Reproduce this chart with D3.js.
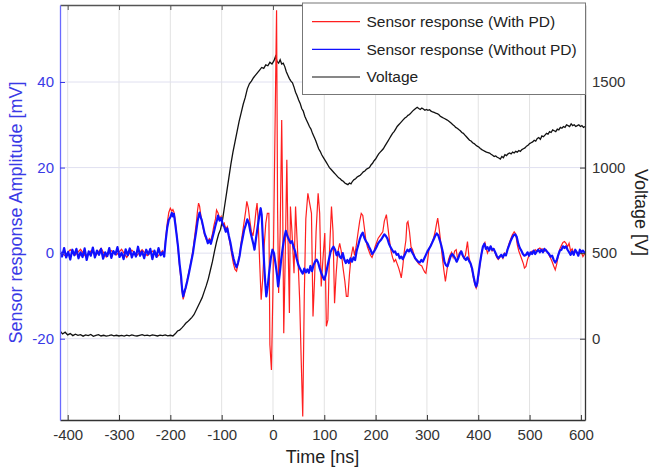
<!DOCTYPE html>
<html><head><meta charset="utf-8">
<script src="https://cdn.jsdelivr.net/npm/d3@7"></script>
<style>
html,body{margin:0;padding:0;background:#fff;}
svg{display:block;font-family:"Liberation Sans",Arial,sans-serif;}
</style></head><body>
<svg id="chart" width="650" height="472"></svg>
<script>
// ---- data (time [ns], value) ----
const xTicks = [-400,-300,-200,-100,0,100,200,300,400,500,600];
const leftTicks = [-20,0,20,40];
const rightTicks = [0,500,1000,1500];
const seriesNames = ["Sensor response (With PD)","Sensor response (Without PD)","Voltage"];

const voltage = [[-415,45],[-410,28],[-405,38],[-400,22],[-395,30],[-390,18],[-385,26],[-380,20],[-375,24],[-370,15],[-365,22],[-360,18],[-355,25],[-350,14],[-345,20],[-340,24],[-335,16],[-330,20],[-325,15],[-320,18],[-315,22],[-310,17],[-305,20],[-300,16],[-295,19],[-290,15],[-285,21],[-280,17],[-275,22],[-270,18],[-265,16],[-260,20],[-255,24],[-250,18],[-245,21],[-240,17],[-235,22],[-230,19],[-225,16],[-220,21],[-215,18],[-210,22],[-205,17],[-200,20],[-195,16],[-190,30],[-186,45],[-182,50],[-178,62],[-174,75],[-170,90],[-166,100],[-162,112],[-158,125],[-154,140],[-150,165],[-146,190],[-142,215],[-138,240],[-134,275],[-130,310],[-126,350],[-122,400],[-118,450],[-114,510],[-110,565],[-106,610],[-102,640],[-98,700],[-94,780],[-90,860],[-86,940],[-82,1020],[-78,1090],[-74,1150],[-70,1210],[-66,1270],[-62,1320],[-58,1370],[-54,1410],[-50,1460],[-46,1490],[-42,1505],[-38,1525],[-34,1540],[-30,1555],[-26,1570],[-22,1585],[-18,1580],[-14,1600],[-10,1595],[-6,1615],[-2,1605],[2,1625],[5,1650],[8,1620],[11,1610],[14,1630],[17,1605],[20,1610],[23,1590],[26,1560],[29,1540],[32,1520],[35,1505],[38,1495],[41,1470],[44,1440],[47,1420],[50,1395],[53,1375],[56,1345],[59,1330],[62,1300],[65,1280],[68,1260],[71,1240],[74,1225],[77,1200],[80,1180],[83,1160],[86,1135],[89,1110],[92,1095],[95,1075],[98,1060],[101,1045],[104,1030],[107,1015],[110,1000],[113,990],[116,980],[119,970],[122,960],[125,950],[128,940],[131,935],[134,925],[137,920],[140,910],[143,905],[146,900],[149,910],[152,905],[155,920],[158,930],[161,935],[164,945],[167,950],[170,955],[173,965],[176,975],[179,980],[182,990],[185,995],[188,1000],[191,1015],[194,1025],[197,1040],[200,1050],[203,1065],[206,1080],[209,1090],[212,1100],[215,1110],[218,1125],[221,1140],[224,1155],[227,1170],[230,1185],[233,1200],[236,1210],[239,1225],[242,1240],[245,1250],[248,1260],[251,1270],[254,1280],[257,1290],[260,1295],[263,1305],[266,1310],[269,1320],[272,1330],[275,1338],[278,1345],[281,1352],[284,1345],[287,1340],[290,1348],[293,1342],[296,1335],[299,1340],[302,1335],[305,1338],[308,1330],[311,1325],[314,1322],[317,1318],[320,1315],[323,1310],[326,1300],[329,1295],[332,1290],[335,1285],[338,1280],[341,1275],[344,1268],[347,1260],[350,1252],[353,1245],[356,1235],[359,1230],[362,1222],[365,1215],[368,1205],[371,1200],[374,1190],[377,1180],[380,1170],[383,1160],[386,1155],[389,1145],[392,1140],[395,1132],[398,1125],[401,1120],[404,1112],[407,1105],[410,1100],[413,1095],[416,1090],[419,1088],[422,1085],[425,1078],[428,1072],[431,1065],[434,1068],[437,1060],[440,1056],[443,1050],[446,1065],[449,1058],[452,1075],[455,1070],[458,1080],[461,1085],[464,1080],[467,1090],[470,1085],[473,1095],[476,1090],[479,1100],[482,1095],[485,1105],[488,1110],[491,1115],[494,1125],[497,1130],[500,1140],[503,1145],[506,1150],[509,1160],[512,1155],[515,1170],[518,1175],[521,1165],[524,1185],[527,1180],[530,1190],[533,1200],[536,1195],[539,1210],[542,1205],[545,1220],[548,1215],[551,1210],[554,1225],[557,1220],[560,1235],[563,1230],[566,1240],[569,1235],[572,1250],[575,1245],[578,1240],[581,1255],[584,1245],[587,1250],[590,1240],[593,1245],[596,1250],[599,1240],[602,1245],[605,1235],[608,1240]];

const withPD = [[-415,0.3],[-405,-0.6],[-395,0.8],[-385,-0.4],[-375,0.9],[-365,-0.8],[-355,0.5],[-345,-0.5],[-335,1.1],[-325,-0.9],[-315,0.6],[-305,-0.4],[-295,0.9],[-285,-1.0],[-275,0.7],[-265,-0.5],[-255,0.8],[-245,-0.6],[-235,0.5],[-225,-0.8],[-215,0.6],[-212,-0.5],[-209,3.5],[-206,7.0],[-203,9.5],[-200,10.5],[-197,9.8],[-195,10.2],[-193,9.6],[-191,8.0],[-188,4.8],[-185,1.0],[-182,-3.0],[-179,-6.5],[-177,-9.0],[-175,-10.8],[-173,-9.8],[-170,-8.2],[-167,-6.2],[-164,-4.5],[-161,-2.8],[-158,-0.8],[-155,1.5],[-152,4.5],[-149,7.5],[-147,10.0],[-145,11.7],[-143,11.0],[-141,9.2],[-139,7.6],[-136,5.8],[-133,4.2],[-130,3.2],[-127,2.6],[-124,3.4],[-121,3.0],[-118,4.5],[-115,6.5],[-112,8.0],[-110,10.1],[-107,9.4],[-104,8.0],[-101,8.6],[-98,6.5],[-95,7.0],[-92,5.6],[-89,6.2],[-86,3.8],[-83,1.8],[-80,-0.5],[-77,-2.5],[-74,-3.8],[-71,-4.2],[-68,-2.5],[-65,-0.5],[-62,2.5],[-59,5.0],[-56,7.5],[-53,10.0],[-51,12.1],[-48,10.5],[-45,7.5],[-42,5.0],[-39,4.0],[-36,6.5],[-33,10.0],[-31,11.7],[-29,8.0],[-26,-2.0],[-23,-10.9],[-20,-6.0],[-17,2.0],[-14,7.0],[-11,9.3],[-8,9.3],[-6,-21.4],[-3,-27.3],[0,-8.0],[3,20.0],[7,56.8],[9,10.0],[11,-9.3],[14,5.0],[17,31.1],[19,10.0],[21,-18.7],[24,0],[27,21.8],[29,5.0],[32,-14.0],[34,10.9],[37,5.0],[41,-4.7],[44,10.9],[47,3.0],[50,-5.0],[52,-10.9],[55,-25.0],[58,-38.2],[61,-10.0],[64,8.0],[68,14.0],[71,12.0],[75,9.3],[78,-14.8],[81,-6.2],[84,5.0],[88,14.0],[91,9.3],[94,-7.8],[97,-2.0],[101,4.7],[104,-17.1],[107,-15.6],[110,0],[114,10.9],[117,5.0],[120,-11.7],[123,-5.0],[126,0],[130,2.3],[133,0.5],[136,-3.0],[140,-6.5],[143,-10.1],[146,-10.1],[149,-5.0],[152,-1.0],[156,1.5],[159,-0.5],[162,1.5],[166,5.0],[169,7.5],[172,9.3],[175,8.8],[178,6.0],[181,3.0],[184,1.5],[187,0.5],[190,-0.5],[193,-1.0],[196,0],[199,1.5],[202,2.5],[205,3.5],[208,4.0],[211,4.5],[214,5.0],[217,7.5],[221,9.0],[224,6.0],[227,3.0],[230,0.5],[233,-1.0],[236,-2.0],[239,-1.5],[242,-2.5],[245,-3.5],[248,-4.8],[250,-5.8],[253,-3.0],[256,0.5],[259,3.0],[261,7.0],[263,7.4],[266,5.0],[269,1.5],[272,0.8],[275,-0.5],[278,-1.5],[281,-2.0],[284,-2.5],[287,-2.8],[290,-3.0],[293,-3.8],[296,-4.5],[298,-4.7],[301,-2.0],[304,1.0],[307,1.8],[310,2.5],[313,3.5],[316,5.0],[319,7.0],[321,8.2],[324,5.5],[327,2.5],[330,-1.0],[333,-4.0],[336,-6.6],[339,-4.0],[342,-1.5],[345,-0.5],[348,0.2],[351,-1.0],[354,0.5],[357,0.8],[360,-1.5],[363,0],[366,0.5],[369,-0.5],[372,-1.2],[375,-0.5],[379,2.7],[382,-1.0],[385,-2.5],[388,-4.0],[391,-6.0],[394,-7.6],[396,-8.2],[398,-7.5],[401,-5.0],[404,-2.0],[407,0.5],[410,1.8],[413,2.5],[416,0.8],[418,0],[421,1.0],[424,1.5],[427,0.5],[430,1.0],[433,0],[436,-1.0],[439,-1.5],[442,-1.0],[445,-0.5],[448,-1.2],[451,0],[454,-0.5],[457,1.0],[460,2.2],[463,3.2],[466,4.2],[470,5.0],[473,4.5],[476,2.0],[479,0.5],[482,-0.5],[485,-1.5],[488,-2.5],[490,-3.5],[493,-3.1],[496,-1.5],[499,-0.5],[502,0],[505,0.5],[508,0.2],[511,0.8],[514,0.5],[517,1.0],[520,1.2],[523,0.8],[526,1.0],[529,0.5],[532,0.8],[535,0.2],[538,-0.5],[541,-1.2],[544,-2.0],[547,-3.0],[550,-3.9],[553,-2.5],[556,-0.5],[559,1.0],[562,1.8],[565,2.5],[568,2.7],[571,2.3],[574,1.5],[577,2.3],[580,0.5],[583,1.0],[586,0],[590,0.5],[595,-0.3],[600,0.5],[604,-0.8],[608,0]];

const withoutPD = [[-415,0.5],[-411,-0.8],[-407,1.2],[-403,-1.0],[-399,0.3],[-395,-1.5],[-391,0.8],[-387,-0.5],[-383,1.0],[-379,-1.2],[-375,0.2],[-371,-0.9],[-367,1.1],[-363,-1.6],[-359,0.4],[-355,-0.6],[-351,1.3],[-347,-1.0],[-343,0.6],[-339,-0.4],[-335,1.0],[-331,-1.3],[-327,0.2],[-323,-0.7],[-319,1.2],[-315,-1.1],[-311,0.5],[-307,-0.3],[-303,1.4],[-299,-0.9],[-295,0.1],[-291,-1.4],[-287,0.9],[-283,-0.5],[-279,1.1],[-275,-1.0],[-271,0.3],[-267,-0.8],[-263,1.5],[-259,-0.6],[-255,0.4],[-251,-1.2],[-247,0.8],[-243,-0.3],[-239,1.0],[-235,-1.4],[-231,0.6],[-227,-0.9],[-223,1.2],[-219,-0.5],[-215,0.2],[-212,-0.8],[-209,3.0],[-206,6.0],[-203,7.8],[-200,8.4],[-197,9.4],[-195,8.6],[-193,9.2],[-191,7.4],[-188,4.5],[-185,1.5],[-182,-2.5],[-179,-5.5],[-177,-8.5],[-175,-10.1],[-173,-9.2],[-170,-8.0],[-167,-6.5],[-164,-4.8],[-161,-3.0],[-158,-1.2],[-156,0],[-153,2.5],[-150,4.8],[-147,7.4],[-145,8.6],[-143,9.5],[-141,8.4],[-139,7.8],[-136,6.2],[-133,4.5],[-130,3.6],[-127,2.3],[-124,3.0],[-121,2.2],[-118,3.6],[-115,5.0],[-112,6.5],[-109,7.8],[-107,8.8],[-104,7.6],[-101,8.2],[-98,6.8],[-95,6.2],[-92,5.0],[-89,5.8],[-86,4.0],[-83,2.5],[-80,0.5],[-77,-1.2],[-74,-2.5],[-71,-3.3],[-68,-2.2],[-65,-0.6],[-62,1.8],[-59,3.6],[-56,5.5],[-53,6.6],[-50,7.9],[-47,7.0],[-44,5.0],[-41,3.5],[-38,2.0],[-36,0.8],[-33,3.5],[-30,6.0],[-27,8.5],[-24,10.5],[-22,9.0],[-20,4.0],[-17,-3.0],[-15,-7.0],[-13,-10.1],[-10,-7.5],[-7,-4.0],[-4,-1.0],[-1,0.8],[2,0.0],[5,-2.5],[8,-5.2],[10,-7.8],[13,-5.0],[16,-1.5],[19,1.2],[22,3.6],[25,5.2],[28,4.0],[31,3.2],[34,2.4],[37,2.8],[40,1.5],[43,0.5],[46,-1.2],[49,-2.6],[52,-3.5],[55,-4.2],[58,-4.8],[61,-3.6],[64,-4.5],[67,-3.8],[70,-4.6],[73,-3.0],[76,-4.2],[79,-2.8],[82,-2.0],[85,-1.5],[88,-2.2],[91,-3.5],[94,-4.6],[97,-5.5],[100,-6.2],[103,-5.0],[106,-3.2],[109,-1.5],[112,0.2],[115,1.0],[118,1.5],[121,0.8],[124,-0.5],[127,0.3],[130,-0.8],[133,-1.2],[136,0],[139,-1.5],[142,-2.3],[145,-1.6],[148,-2.3],[151,-1.2],[154,-2.0],[157,-1.0],[160,-1.6],[163,0.5],[166,1.8],[169,3.2],[172,4.2],[175,4.8],[178,3.6],[181,2.8],[184,2.3],[187,1.5],[190,0.8],[193,-0.2],[196,0.2],[199,0.8],[202,1.5],[205,2.3],[208,2.8],[211,3.2],[214,3.8],[217,4.4],[220,4.0],[223,3.4],[226,2.2],[229,1.4],[232,0.8],[235,0.2],[238,0.4],[241,-0.4],[244,-0.2],[247,-1.2],[250,-0.8],[253,-1.4],[256,-0.6],[259,0.2],[262,0.8],[265,0.4],[268,1.0],[271,0.2],[274,-0.4],[277,-1.2],[280,-1.6],[283,-2.0],[286,-2.2],[289,-1.6],[292,-2.0],[295,-1.2],[298,-0.4],[301,0.4],[304,1.0],[307,1.6],[310,2.4],[313,3.2],[316,4.0],[319,4.6],[322,4.2],[325,3.0],[328,1.8],[331,0.2],[334,-2.0],[337,-2.8],[340,-3.1],[343,-2.0],[346,-0.8],[349,-0.2],[352,-0.6],[355,-1.2],[358,-2.0],[361,-1.2],[364,-0.2],[367,0.4],[370,-0.6],[373,-1.2],[376,-1.6],[379,-1.0],[382,-1.8],[385,-2.4],[388,-3.6],[391,-5.6],[394,-7.2],[396,-7.8],[398,-7.0],[400,-5.2],[403,-2.6],[406,-0.4],[409,1.5],[412,2.2],[415,1.0],[418,1.4],[421,0.6],[424,1.6],[427,0.8],[430,1.0],[433,0.2],[436,-0.6],[439,-1.2],[442,-0.8],[445,-0.4],[448,-1.0],[451,-0.2],[454,-0.5],[457,0.8],[460,1.8],[463,2.8],[466,3.6],[469,4.2],[472,4.4],[475,3.8],[478,2.2],[481,1.2],[484,0.6],[487,-0.2],[490,-0.6],[493,-0.4],[496,0.2],[499,-0.6],[502,0.2],[505,-0.2],[508,0.6],[511,-0.2],[514,0.4],[517,0.8],[520,0.2],[523,0.8],[526,0.2],[529,1.0],[532,0.6],[535,0.2],[538,-0.2],[541,-0.8],[544,-0.6],[547,-1.6],[550,-2.2],[553,-1.6],[556,-0.4],[559,0.6],[562,0.8],[565,1.6],[568,1.2],[571,1.6],[574,0.8],[577,0.2],[580,-0.4],[583,0.4],[586,-0.4],[589,0.8],[592,0.2],[595,-0.6],[598,0.8],[601,0.2],[604,0.6],[608,0]];

// ---- layout ----
const W = 650, H = 472;
const L = 60, R = 585, T = 5, B = 420;
const svg = d3.select("#chart");

const x = d3.scaleLinear().domain([-415, 608]).range([L, R]);
const yL = d3.scaleLinear().domain([-39, 58]).range([B, T]);
const yR = d3.scaleLinear().domain([-475, 1950]).range([B, T]);

const axisCol = "#333333";
const leftCol = "#3a3ae6";
const fmt = d => String(d);

// grid
const grid = svg.append("g");
grid.selectAll("line.v").data(xTicks).enter().append("line")
  .attr("x1", d => x(d)).attr("x2", d => x(d)).attr("y1", T).attr("y2", B)
  .attr("stroke", "#e2e2e2").attr("stroke-width", 1);
grid.selectAll("line.h").data(leftTicks).enter().append("line")
  .attr("x1", L).attr("x2", R).attr("y1", d => yL(d)).attr("y2", d => yL(d))
  .attr("stroke", "#e0e0f0").attr("stroke-width", 1);

// clip
svg.append("defs").append("clipPath").attr("id", "clip")
  .append("rect").attr("x", L).attr("y", T).attr("width", R - L).attr("height", B - T);

const plot = svg.append("g").attr("clip-path", "url(#clip)");
const lineV = d3.line().x(d => x(d[0])).y(d => yR(d[1]));
const lineS = d3.line().x(d => x(d[0])).y(d => yL(d[1]));

plot.append("path").datum(voltage).attr("d", lineV)
  .attr("fill", "none").attr("stroke", "#111").attr("stroke-width", 1.3);
plot.append("path").datum(withPD).attr("d", lineS)
  .attr("fill", "none").attr("stroke", "#ff1f1f").attr("stroke-width", 1.2);
plot.append("path").datum(withoutPD).attr("d", lineS)
  .attr("fill", "none").attr("stroke", "#1010ff").attr("stroke-width", 2.2)
  .attr("stroke-linejoin", "round");

// axes
const fontSize = 15;
function styleAxis(g, col) {
  g.selectAll("path").attr("stroke", col).attr("stroke-width", 1.3);
  g.selectAll("line").attr("stroke", col);
  g.selectAll("text").attr("fill", col).style("font-size", fontSize + "px")
    .style("font-family", "'Liberation Sans', Arial, sans-serif");
}
const gB = svg.append("g").attr("transform", `translate(0,${B})`)
  .call(d3.axisBottom(x).tickValues(xTicks).tickFormat(fmt).tickSizeInner(-5).tickSizeOuter(0).tickPadding(9));
styleAxis(gB, axisCol);
const gT = svg.append("g").attr("transform", `translate(0,${T})`)
  .call(d3.axisTop(x).tickValues(xTicks).tickSizeInner(-5).tickSizeOuter(0).tickFormat(""));
styleAxis(gT, "#555");
const gR = svg.append("g").attr("transform", `translate(${R},0)`)
  .call(d3.axisRight(yR).tickValues(rightTicks).tickFormat(fmt).tickSizeInner(-5).tickSizeOuter(0).tickPadding(7));
styleAxis(gR, axisCol);
const gL = svg.append("g").attr("transform", `translate(${L},0)`)
  .call(d3.axisLeft(yL).tickValues(leftTicks).tickFormat(fmt).tickSizeInner(-5).tickSizeOuter(0).tickPadding(6));
styleAxis(gL, leftCol);
gL.select("path").attr("stroke", "#6a6aff");

// axis titles
svg.append("text").attr("x", (L + R) / 2).attr("y", 463).attr("text-anchor", "middle")
  .style("font-size", "18px").attr("fill", "#222").text("Time [ns]");
svg.append("text").attr("transform", `translate(22,${(T + B) / 2}) rotate(-90)`)
  .attr("text-anchor", "middle").style("font-size", "18px").attr("fill", leftCol)
  .text("Sensor response Amplitude [mV]");
svg.append("text").attr("transform", `translate(635,${(T + B) / 2}) rotate(90)`)
  .attr("text-anchor", "middle").style("font-size", "18px").attr("fill", "#222")
  .text("Voltage [V]");

// legend
const lg = svg.append("g");
lg.append("rect").attr("x", 302.5).attr("y", 3).attr("width", 283).attr("height", 91.5)
  .attr("fill", "#fff").attr("stroke", "#777").attr("stroke-width", 1);
const legendCols = ["#ff1f1f", "#1010ff", "#111"];
const rowY = [21.7, 49.3, 77];
seriesNames.forEach((name, i) => {
  lg.append("line").attr("x1", 312).attr("x2", 360).attr("y1", rowY[i]).attr("y2", rowY[i])
    .attr("stroke", legendCols[i]).attr("stroke-width", 1.2);
  lg.append("text").attr("x", 366.5).attr("y", rowY[i]).attr("dy", "0.35em")
    .style("font-size", "15.5px").attr("fill", "#222").text(name);
});
</script>
</body></html>
